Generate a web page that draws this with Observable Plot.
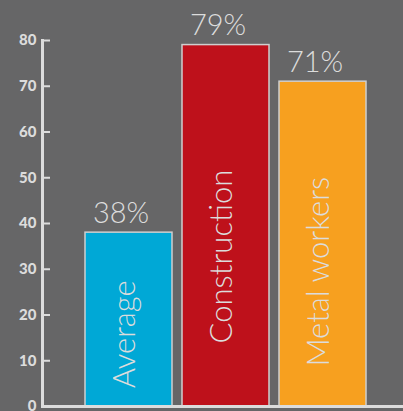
<!DOCTYPE html>
<html>
<head>
<meta charset="utf-8">
<script src="https://cdn.jsdelivr.net/npm/d3@7"></script>
<script src="https://cdn.jsdelivr.net/npm/@observablehq/plot@0.6"></script>
<style>
  html, body { margin: 0; padding: 0; background: #666667; }
  #chart svg { display: block; }
</style>
</head>
<body>
<div id="chart"></div>
<script>
const categories = ["Average", "Construction", "Metal workers"];
const values = [38, 79, 71];
const valueLabels = ["38%", "79%", "71%"];
const colors = ["#00a8d6", "#be111b", "#f7a01f"];
const yTicks = [0, 10, 20, 30, 40, 50, 60, 70, 80];

const data = categories.map((c, i) => ({category: c, value: values[i], label: valueLabels[i], color: colors[i]}));

const light = "#dcdcdc";

const chart = Plot.plot({
  width: 403,
  height: 411,
  marginLeft: 42,
  marginRight: 0,
  marginTop: 40,
  marginBottom: 5,
  style: {background: "#666667", color: light, overflow: "visible"},
  x: {domain: categories, range: [83.3, 367.3], paddingInner: 0.102, paddingOuter: 0, axis: null},
  y: {domain: [0, 80], axis: null},
  marks: [
    Plot.barY(data, {x: "category", y: "value", fill: "color", stroke: "#cfcfcf", strokeWidth: 1.5}),
    Plot.frame({anchor: "left", stroke: light, strokeWidth: 3}),
    Plot.ruleY([0], {stroke: light, strokeWidth: 3}),
    Plot.axisY({ticks: yTicks, label: null, tickSize: -8, tickPadding: 14, stroke: light, strokeWidth: 2,
      fill: light, fontSize: 15, fontWeight: 900, fontFamily: "Lato, Roboto, sans-serif", tickFormat: d => d}),
    Plot.text(data, {x: "category", y: "value", text: "label", dy: -10, dx: -8, lineAnchor: "bottom",
      fill: light, fontSize: 29, fontWeight: 300, fontFamily: "Lato, 'Open Sans', sans-serif"}),
    Plot.text(data, {x: "category", y: d => d.value * 0.415, text: "category", rotate: -90, dx: -4,
      textAnchor: "middle", lineAnchor: "middle",
      fill: light, fontSize: 31, fontWeight: 300, fontFamily: "Lato, 'Open Sans', sans-serif"})
  ]
});
document.getElementById("chart").appendChild(chart);
</script>
</body>
</html>
